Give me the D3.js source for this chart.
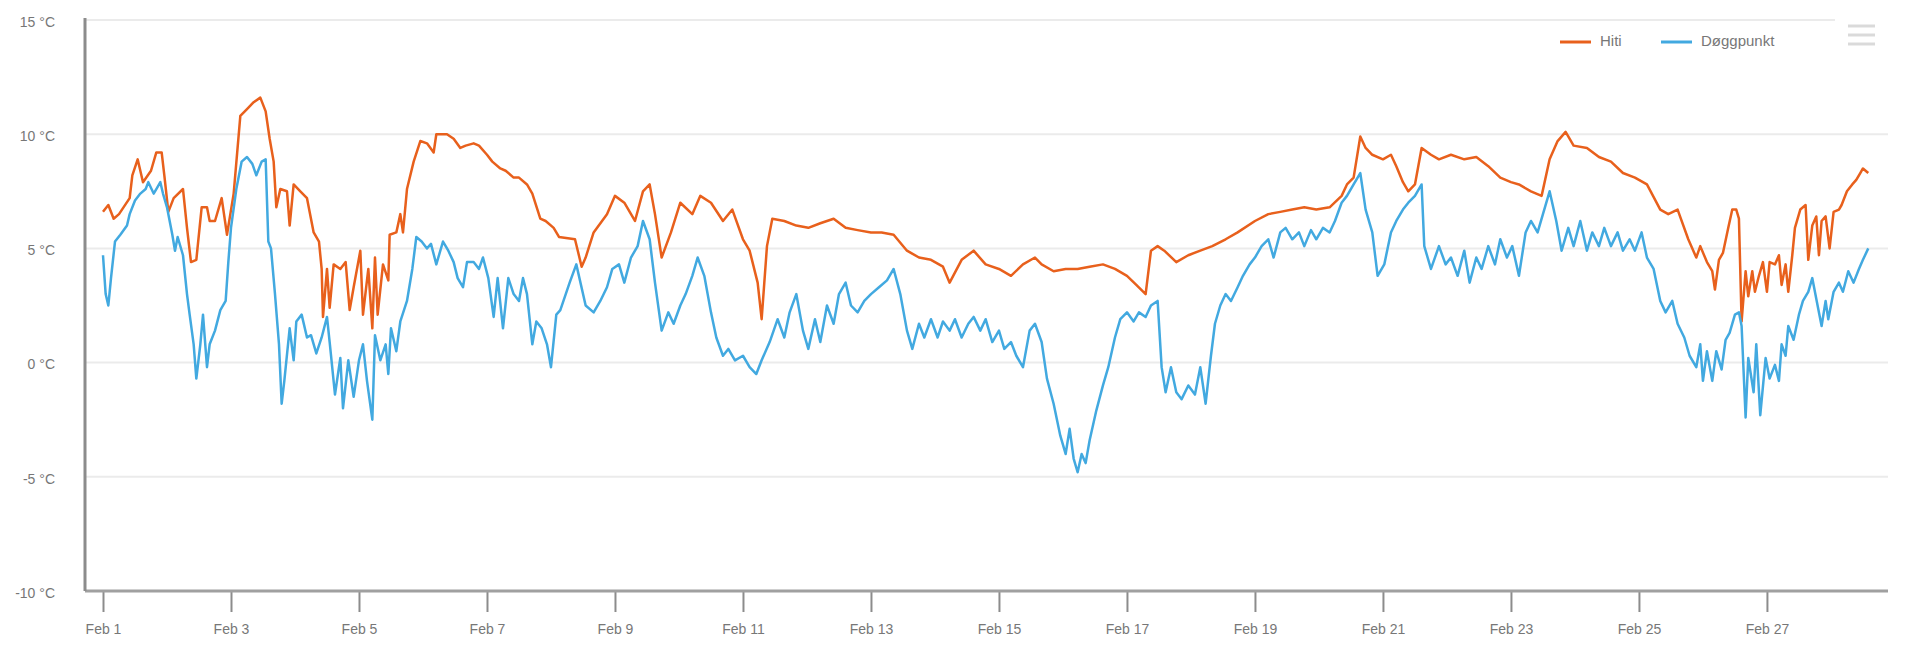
<!DOCTYPE html>
<html>
<head>
<meta charset="utf-8">
<script src="https://cdn.jsdelivr.net/npm/d3@7"></script>
<style>
  body { margin: 0; background: #fff; }
  svg { display: block; font-family: "Liberation Sans", Arial, sans-serif; }
</style>
</head>
<body>
<div id="chart"></div>
<script>
var svgWidth = 1920;
var svgHeight = 670;

// hours since Feb 1 00:00, temperature in °C
var hiti = [[0,6.6],[2,6.9],[4,6.3],[6,6.5],[10,7.2],[11,8.2],[13,8.9],[15,7.9],[18,8.4],[20,9.2],[22,9.2],[23,8.2],[24.5,6.6],[26.5,7.2],[30,7.6],[31.5,5.9],[33,4.4],[35,4.5],[37,6.8],[39,6.8],[40,6.2],[42,6.2],[44.5,7.2],[46.5,5.6],[49,7.4],[51.5,10.8],[54,11.1],[56.5,11.4],[59,11.6],[61,11.0],[62.5,9.8],[64,8.8],[65,6.8],[66.5,7.6],[69,7.5],[70,6.0],[71.5,7.8],[74,7.5],[76.5,7.2],[79,5.7],[81,5.3],[82,4.1],[82.5,2.0],[84,4.1],[85,2.4],[86.5,4.3],[89,4.1],[91,4.4],[92.5,2.3],[94,3.3],[96.5,4.9],[97.5,2.1],[99.5,4.1],[101,1.5],[102,4.6],[103,2.1],[105,4.3],[107,3.6],[107.5,5.6],[110,5.7],[111.5,6.5],[112.5,5.7],[114,7.6],[116.5,8.8],[119,9.7],[121.5,9.6],[124,9.2],[125,10.0],[129,10.0],[131.5,9.8],[134,9.4],[136,9.5],[139,9.6],[141,9.5],[144,9.1],[146,8.8],[149,8.5],[151,8.4],[154,8.1],[156,8.1],[159,7.8],[161,7.4],[164,6.3],[166,6.2],[169,5.9],[171,5.5],
  [177,5.4],[179.5,4.2],[181,4.6],[184,5.7],[189,6.5],[192,7.3],[195.5,7.0],[199.5,6.2],[202.5,7.5],[205,7.8],[207,6.5],[209.5,4.6],[213,5.7],[216.5,7.0],[221,6.5],[224,7.3],[228,7.0],[232.5,6.2],[236,6.7],[240,5.4],[242.5,4.9],[245.5,3.5],[247,1.9],[249,5.1],[251,6.3],[255.5,6.2],[260,6.0],[264.5,5.9],[269,6.1],[274,6.3],[278.5,5.9],[283,5.8],[288,5.7],[292,5.7],[296.5,5.6],[301.5,4.9],[306,4.6],[310.5,4.5],[315,4.2],[317.5,3.5],[322,4.5],[326.5,4.9],[331,4.3],[336,4.1],[340.5,3.8],[345,4.3],[349.5,4.6],[352,4.3],[356.5,4.0],[361,4.1],[365.5,4.1],[370,4.2],[375,4.3],[379.5,4.1],[384,3.8],[387.5,3.4],[391,3.0],[393,4.9],[395.5,5.1],[398,4.9],[402.5,4.4],[407,4.7],[411.5,4.9],[416,5.1],[421,5.4],[425.5,5.7],[432,6.2],[437,6.5],[441.5,6.6],[446,6.7],[450.5,6.8],[455,6.7],[460,6.8],[464.5,7.3],[466.5,7.8],[469,8.1],[471.5,9.9],[473.5,9.4],[476,9.1],[480,8.9],[483,9.1],[485,8.6],[487.5,7.9],[489.5,7.5],[492,7.8],[494.5,9.4],[498,9.1],[501,8.9],[505.5,9.1],[510.5,8.9],[515,9.0],[519.5,8.6],[524,8.1],[528,7.9],[531,7.8],[535.5,7.5],[539.5,7.3],[542.5,8.9],[545.5,9.7],[548.5,10.1],[551.5,9.5],[556.5,9.4],[561,9.0],[565.5,8.8],[570,8.3],[574.5,8.1],[579,7.8],[584,6.7],[587,6.5],[590.5,6.7],[594.5,5.4],[597.5,4.6],
  [599,5.1],[601.5,4.4],[603.5,4.0],[604.5,3.2],[606,4.5],[607.5,4.8],[609.5,5.9],[611,6.7],[612.5,6.7],[613.5,6.3],[614.5,1.8],[616,4.0],[617,2.9],[618.5,4.0],[619.5,3.1],[621,3.8],[622.5,4.4],[624,3.1],[625,4.4],[627,4.3],[628.5,4.7],[629.5,3.4],[631,4.3],[632,3.1],[633.5,4.7],[634.5,5.9],[636.5,6.7],[638.5,6.9],[639.5,4.5],[641,6.0],[642.5,6.4],[643.5,4.7],[644.5,6.2],[646,6.4],[647.5,5.0],[649,6.6],[651,6.7],[652,6.9],[654,7.5],[656,7.8],[657.5,8.0],[659,8.3],[660,8.5],[662,8.3]];

var doggpunkt = [[0,4.7],[1,3.0],[2,2.5],[3,3.7],[4.5,5.3],[6.5,5.6],[9,6.0],[10,6.5],[12,7.1],[14,7.4],[16,7.6],[17,7.9],[19,7.4],[20,7.6],[21.5,7.9],[22.5,7.4],[24,6.8],[26,5.6],[27,4.9],[28,5.5],[30,4.7],[31.5,3.0],[32.5,2.1],[34,0.8],[35,-0.7],[36.5,0.8],[37.5,2.1],[39,-0.2],[40,0.8],[42,1.4],[44,2.3],[46,2.7],[47,4.4],[48,5.9],[50,7.6],[52,8.8],[54,9.0],[56,8.7],[57.5,8.2],[59.5,8.8],[61,8.9],[62,5.3],[63,5.0],[64.5,3.0],[66,0.8],[67,-1.8],[68,-0.8],[70,1.5],[71.5,0.1],[72.5,1.8],[74.5,2.1],[76.5,1.1],[78,1.2],[80,0.4],[82,1.1],[84,2.0],[85,0.9],[87,-1.4],[89,0.2],[90,-2.0],[92,0.1],[94,-1.5],[96,0.1],[97.5,0.8],[99,-0.8],[101,-2.5],[102,1.2],[104,0.1],[106,0.8],[107,-0.5],[108,1.5],[110,0.5],[111.5,1.8],[114,2.7],[116,4.1],[117.5,5.5],[119.5,5.3],[121.5,5.0],[123,5.2],[125,4.3],[127.5,5.3],[129.5,4.9],[131.5,4.4],[133,3.7],[135,3.3],[136.5,4.4],[139,4.4],[141,4.1],[142.5,4.6],[144.5,3.7],[146.5,2.0],[148,3.7],[150,1.5],[152,3.7],[154,3.0],[156,2.7],[157.5,3.7],[159,3.0],[161,0.8],[162.5,1.8],[164.5,1.5],[166.5,0.8],[168,-0.2],[170,2.1],[171.5,2.3],
  [175,3.5],[177.5,4.3],[181,2.5],[184,2.2],[186.5,2.7],[189,3.3],[191,4.1],[193.5,4.3],[195.5,3.5],[198,4.6],[200.5,5.1],[202.5,6.2],[205,5.4],[207,3.5],[209.5,1.4],[212,2.2],[214,1.7],[216.5,2.5],[218.5,3.0],[221,3.8],[223,4.6],[225.5,3.8],[228,2.2],[230,1.1],[232.5,0.3],[234.5,0.6],[237,0.1],[240,0.3],[242.5,-0.2],[245,-0.5],[247,0.1],[250,0.9],[253,1.9],[255.5,1.1],[257.5,2.2],[260,3.0],[262.5,1.4],[264.5,0.6],[267,1.9],[269,0.9],[271.5,2.5],[274,1.7],[276,3.0],[278.5,3.5],[280.5,2.5],[283,2.2],[285.5,2.7],[288,3.0],[291,3.3],[294,3.6],[296.5,4.1],[299,3.0],[301.5,1.4],[303.5,0.6],[306,1.7],[308,1.1],[310.5,1.9],[313,1.1],[315,1.8],[317.5,1.4],[319.5,1.9],[322,1.1],[324.5,1.7],[326.5,2.0],[329,1.4],[331,1.9],[333.5,0.9],[336,1.4],[338,0.6],[340.5,0.9],[342.5,0.3],[345,-0.2],[347.5,1.4],[349.5,1.7],[352,0.9],[354,-0.7],[356.5,-1.8],[359,-3.2],[361,-4.0],[362.5,-2.9],[364,-4.2],[365.5,-4.8],[367,-4.0],[368.5,-4.4],[370,-3.4],[372.5,-2.1],[375,-1.0],[377,-0.2],[379.5,1.1],[381.5,1.9],[384,2.2],[386.5,1.8],[388.5,2.2],[391,2.0],[393,2.5],[395.5,2.7],[397,-0.2],[398.5,-1.3],[400.5,-0.2],[402.5,-1.3],[404.5,-1.6],[407,-1.0],[409.5,-1.4],[411.5,-0.2],[413.5,-1.8],[415.5,0.3],[417,1.7],[419,2.5],[421,3.0],[423,2.7],[425.5,3.3],[427.5,3.8],[430,4.3],[432,4.6],[434.5,5.1],[437,5.4],[439,4.6],[441.5,5.7],[443.5,5.9],[446,5.4],[448.5,5.7],[450.5,5.1],[453,5.8],[455,5.4],[457.5,5.9],[460,5.7],[462,6.2],[464.5,7.0],[466.5,7.3],[469,7.8],[471.5,8.3],[473.5,6.7],[476,5.7],[478,3.8],[480.5,4.3],[483,5.7],[485,6.2],[487.5,6.7],[489.5,7.0],[492,7.3],[494.5,7.8],[495.5,5.1],[498,4.1],[501,5.1],[503.5,4.3],[505.5,4.6],[508,3.8],[510.5,4.9],[512.5,3.5],[515,4.6],[517,4.1],[519.5,5.1],[522,4.3],[524,5.4],[526.5,4.6],[528.5,5.1],[531,3.8],[533.5,5.7],[535.5,6.2],[538,5.7],[540,6.5],[542.5,7.5],[545,6.2],[547,4.9],[549.5,5.9],[551.5,5.1],[554,6.2],[556.5,4.9],[558.5,5.7],[561,5.1],[563,5.9],[565.5,5.1],[568,5.7],[570,4.9],[572.5,5.4],[574.5,4.9],[577,5.7],[579,4.6],[581.5,4.1],[584,2.7],[586,2.2],[588.5,2.7],[590.5,1.7],[593,1.1],[595,0.3],[597.5,-0.2],
  [599,0.8],[600,-0.8],[601.5,0.5],[603.5,-0.8],[605,0.5],[607,-0.3],[608.5,1.0],[610,1.3],[612,2.1],[613.5,2.2],[614.5,1.6],[616,-2.4],[617,0.2],[619,-1.3],[620,0.8],[621.5,-2.3],[623.5,0.2],[625,-0.7],[627,-0.1],[628.5,-0.8],[629.5,0.8],[631,0.3],[632,1.6],[634,1.0],[636,2.1],[637.5,2.7],[639.5,3.1],[641,3.7],[642.5,2.8],[644.5,1.6],[646,2.7],[647,1.9],[649,3.1],[651,3.5],[652.5,3.1],[654.5,4.0],[656.5,3.5],[658.5,4.1],[660,4.5],[662,5.0]];

var seriesNames = ["Hiti", "Døggpunkt"];
var seriesColors = ["#e8601c", "#42a9e0"];
var yTicks = [-10, -5, 0, 5, 10, 15];

var start = Date.UTC(2023, 1, 1);
var hour = 3600 * 1000;

var svg = d3.select("#chart")
  .append("svg")
  .attr("width", svgWidth)
  .attr("height", svgHeight);

// plot box (window.top is taken, so use other names)
var plotLeft = 85, plotRight = 1888, plotTop = 20, plotBottom = 591;

var xScale = d3.scaleUtc()
  .domain([new Date(start - 6.75 * hour), new Date(start + 669.4 * hour)])
  .range([plotLeft, plotRight]);

var yScale = d3.scaleLinear()
  .domain([-10, 15])
  .range([plotBottom, plotTop]);

// horizontal grid
svg.append("g")
  .selectAll("line")
  .data(yTicks.filter(d => d > -10))
  .enter()
  .append("line")
  .attr("x1", plotLeft)
  .attr("x2", plotRight)
  .attr("y1", d => yScale(d))
  .attr("y2", d => yScale(d))
  .attr("stroke", "#ebebeb")
  .attr("stroke-width", 2);

// y labels
svg.append("g")
  .selectAll("text")
  .data(yTicks)
  .enter()
  .append("text")
  .attr("x", 55)
  .attr("y", d => yScale(d) + 3)
  .attr("text-anchor", "end")
  .attr("dominant-baseline", "middle")
  .attr("font-size", 14)
  .attr("fill", "#777")
  .text(d => d + " °C");

// x axis
var xAxis = d3.axisBottom(xScale)
  .ticks(d3.utcDay.every(2))
  .tickFormat(d3.utcFormat("%b %-d"))
  .tickSize(21)
  .tickPadding(12);

var xg = svg.append("g")
  .attr("transform", "translate(0," + plotBottom + ")")
  .call(xAxis);
xg.select(".domain").remove();
xg.selectAll(".tick line").attr("stroke", "#8c8c8c").attr("stroke-width", 2);
xg.selectAll(".tick text")
  .attr("font-size", 14)
  .attr("fill", "#777")
  .attr("font-family", "Liberation Sans, Arial, sans-serif");
// drop the tick that would fall on Mar 1
xg.selectAll(".tick").filter(d => d.getUTCMonth() !== 1).remove();

svg.append("line")
  .attr("x1", plotLeft).attr("x2", plotRight)
  .attr("y1", plotBottom).attr("y2", plotBottom)
  .attr("stroke", "#a0a0a0")
  .attr("stroke-width", 3);

svg.append("line")
  .attr("x1", plotLeft).attr("x2", plotLeft)
  .attr("y1", plotTop - 2).attr("y2", plotBottom)
  .attr("stroke", "#8c8c8c")
  .attr("stroke-width", 3);

var lineGenerator = d3.line()
  .x(d => xScale(new Date(start + d[0] * hour)))
  .y(d => yScale(d[1]));

[hiti, doggpunkt].forEach(function(data, i) {
  svg.append("path")
    .attr("fill", "none")
    .attr("stroke", seriesColors[i])
    .attr("stroke-width", 2.5)
    .attr("stroke-linejoin", "round")
    .attr("d", lineGenerator(data));
});

// legend
var legendX = [1560, 1661];
seriesNames.forEach(function(name, i) {
  svg.append("line")
    .attr("x1", legendX[i]).attr("x2", legendX[i] + 31)
    .attr("y1", 42).attr("y2", 42)
    .attr("stroke", seriesColors[i])
    .attr("stroke-width", 3);
  svg.append("text")
    .attr("x", legendX[i] + 40)
    .attr("y", 42)
    .attr("dominant-baseline", "middle")
    .attr("font-size", 15)
    .attr("fill", "#777")
    .text(name);
});

// menu button
svg.append("rect")
  .attr("x", 1835).attr("y", 8)
  .attr("width", 56).attr("height", 50)
  .attr("fill", "#fff");
[26, 35, 44].forEach(function(y) {
  svg.append("line")
    .attr("x1", 1848).attr("x2", 1875)
    .attr("y1", y).attr("y2", y)
    .attr("stroke", "#dadada")
    .attr("stroke-width", 3);
});
</script>
</body>
</html>
